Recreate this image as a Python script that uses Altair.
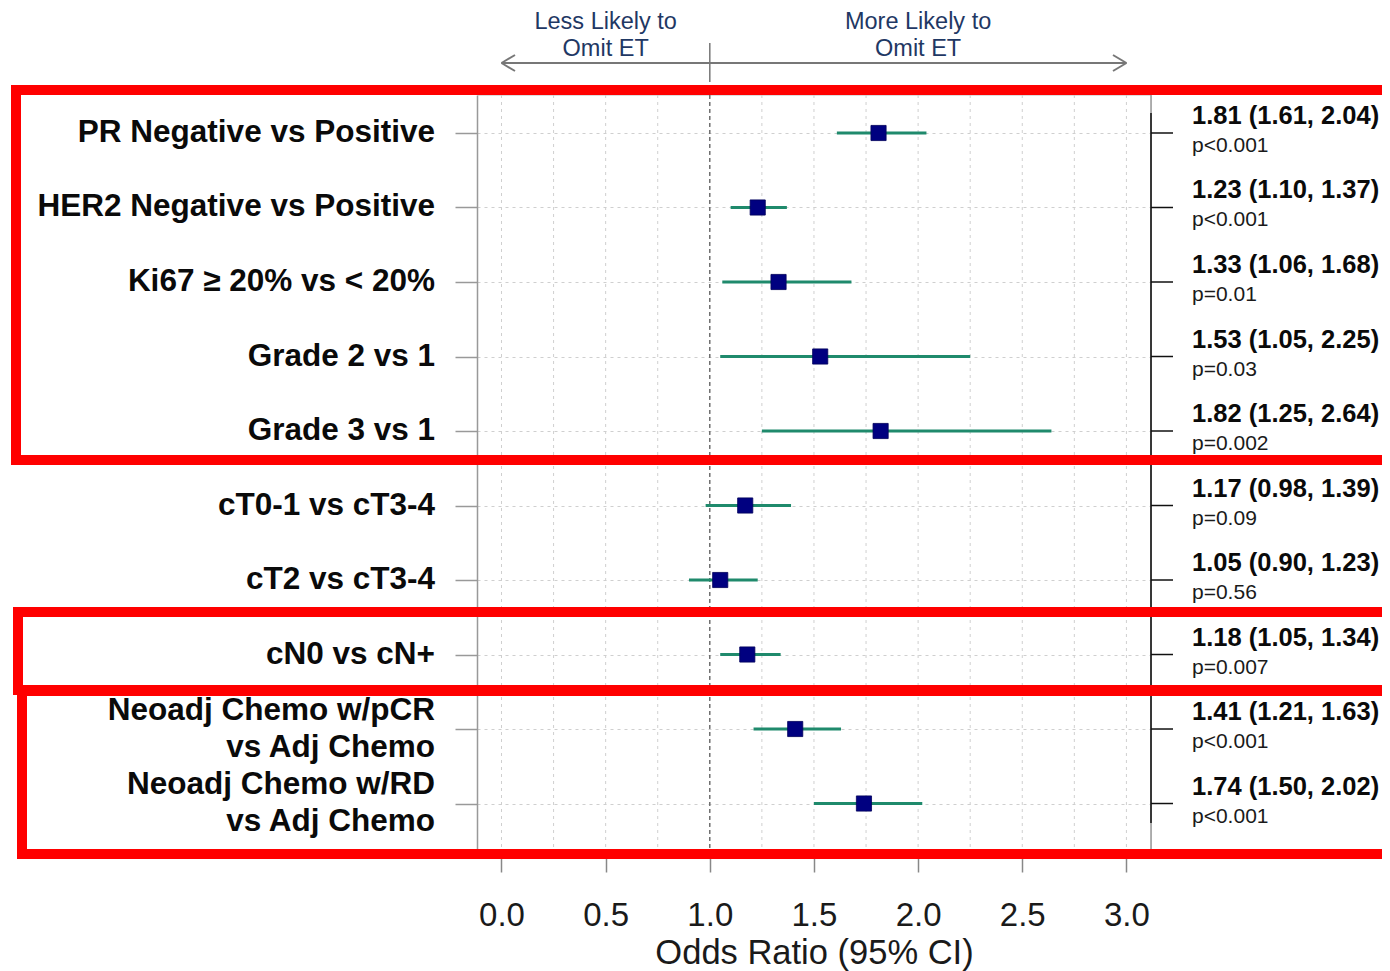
import altair as alt
import pandas as pd

labels = [
    "PR Negative vs Positive",
    "HER2 Negative vs Positive",
    "Ki67 \u2265 20% vs < 20%",
    "Grade 2 vs 1",
    "Grade 3 vs 1",
    "cT0-1 vs cT3-4",
    "cT2 vs cT3-4",
    "cN0 vs cN+",
    "Neoadj Chemo w/pCR\nvs Adj Chemo",
    "Neoadj Chemo w/RD\nvs Adj Chemo",
]
odds = [1.81, 1.23, 1.33, 1.53, 1.82, 1.17, 1.05, 1.18, 1.41, 1.74]
lower = [1.61, 1.10, 1.06, 1.05, 1.25, 0.98, 0.90, 1.05, 1.21, 1.50]
upper = [2.04, 1.37, 1.68, 2.25, 2.64, 1.39, 1.23, 1.34, 1.63, 2.02]
pvals = ["p<0.001", "p<0.001", "p=0.01", "p=0.03", "p=0.002",
         "p=0.09", "p=0.56", "p=0.007", "p<0.001", "p<0.001"]

x_ticks = [0.0, 0.5, 1.0, 1.5, 2.0, 2.5, 3.0]
x_grid = [0.0, 0.25, 0.5, 0.75, 1.0, 1.25, 1.5, 1.75, 2.0, 2.25, 2.5, 2.75, 3.0]
ref_value = [1.0]
arrow_span = {"a": [0.0], "b": [3.0]}
direction_text = ["Less Likely to\nOmit ET", "More Likely to\nOmit ET"]
direction_pos = [0.5, 2.0]

df = pd.DataFrame({
    "row": list(range(1, len(labels) + 1)),
    "label": labels,
    "or": odds,
    "lo": lower,
    "hi": upper,
    "p": pvals,
})
df["ortxt"] = [f"{o:.2f} ({l:.2f}, {h:.2f})" for o, l, h in zip(odds, lower, upper)]

W, H = 674, 755
FONT = "Liberation Sans"

x_scale = alt.Scale(domain=[-0.1176, 3.118], nice=False, zero=False)
x_axis = alt.Axis(values=x_ticks, format=".1f", title="Odds Ratio (95% CI)",
                  grid=False, domain=False, tickColor="#888888", tickSize=22,
                  tickWidth=1.5, labelFontSize=33, labelColor="#1a1a1a",
                  labelPadding=27, labelFont=FONT, titleFont=FONT,
                  titleFontSize=34.5, titleFontWeight="normal", titleColor="#1a1a1a",
                  titlePadding=4)
y_scale = alt.Scale(domain=[0.49, 10.624], reverse=True, nice=False, zero=False)
y_axis = alt.Axis(values=list(range(1, 11)), labels=False, title=None,
                  domainColor="#999999", domainWidth=1.5, tickColor="#999999",
                  tickSize=22, tickWidth=1.5, grid=True, gridDash=[3, 4],
                  gridColor="#cfcfcf", gridWidth=1)

X = lambda f: alt.X(f, scale=x_scale, axis=x_axis)
Y = lambda f: alt.Y(f, scale=y_scale, axis=y_axis)

one = pd.DataFrame({"k": [0]})

vgrid = alt.Chart(pd.DataFrame({"gx": x_grid})).mark_rule(
    color="#cfcfcf", strokeDash=[3, 4], strokeWidth=1
).encode(x=X("gx:Q"), y=alt.value(0), y2=alt.value(H))

refline = alt.Chart(pd.DataFrame({"r": ref_value})).mark_rule(
    color="#555555", strokeDash=[4, 3], strokeWidth=1.2
).encode(x=X("r:Q"), y=alt.value(0), y2=alt.value(H))

reftop = alt.Chart(pd.DataFrame({"r": ref_value})).mark_rule(
    color="#777777", strokeWidth=1.5
).encode(x=X("r:Q"), y=alt.value(-52), y2=alt.value(-13))

right_border = alt.Chart(one).mark_rule(color="#999999", strokeWidth=1.5).encode(
    x=alt.value(W), y=alt.value(0), y2=alt.value(H))
right_axis = alt.Chart(one).mark_rule(color="#111111", strokeWidth=1.5).encode(
    x=alt.value(W), y=alt.value(18), y2=alt.value(728))

base = alt.Chart(df)

ci = base.mark_rule(color="#1f8a6c", strokeWidth=3.2).encode(
    x=X("lo:Q"), x2="hi:Q", y=Y("row:Q"))
pts = base.mark_square(size=230, color="#000080", opacity=1,
                       stroke="#00005a", strokeWidth=0.8).encode(
    x=X("or:Q"), y=Y("row:Q"))

rticks = base.mark_rule(color="#111111", strokeWidth=1.5).encode(
    x=alt.value(W), x2=alt.value(W + 22), y=Y("row:Q"))

label_style = dict(align="right", baseline="middle", font=FONT,
                   fontWeight="bold", fontSize=31.5, lineBreak="\n",
                   lineHeight=37, color="#0a0a0a")
left_lab1 = base.transform_filter("indexof(datum.label, '\\n') < 0").mark_text(
    **label_style).encode(x=alt.value(-42), y=Y("row:Q"), text="label:N")
left_lab2 = base.transform_filter("indexof(datum.label, '\\n') >= 0").mark_text(
    dy=-18.5, **label_style).encode(x=alt.value(-42), y=Y("row:Q"), text="label:N")

or_lab = base.mark_text(align="left", baseline="middle", font=FONT,
                        fontWeight="bold", fontSize=25.5, dy=-17,
                        color="#0a0a0a").encode(
    x=alt.value(715), y=Y("row:Q"), text="ortxt:N")
p_lab = base.mark_text(align="left", baseline="middle", font=FONT,
                       fontSize=21, dy=13, color="#1a1a1a").encode(
    x=alt.value(715), y=Y("row:Q"), text="p:N")

arrow_df = pd.DataFrame(arrow_span)
arrow = alt.Chart(arrow_df).mark_rule(color="#777777", strokeWidth=2).encode(
    x=X("a:Q"), x2="b:Q", y=alt.value(-32))
head_l1 = alt.Chart(arrow_df).mark_rule(color="#777777", strokeWidth=2).encode(
    x=X("a:Q"), x2=alt.value(38), y=alt.value(-32), y2=alt.value(-40))
head_l2 = alt.Chart(arrow_df).mark_rule(color="#777777", strokeWidth=2).encode(
    x=X("a:Q"), x2=alt.value(38), y=alt.value(-32), y2=alt.value(-24))
head_r1 = alt.Chart(arrow_df).mark_rule(color="#777777", strokeWidth=2).encode(
    x=X("b:Q"), x2=alt.value(636), y=alt.value(-32), y2=alt.value(-40))
head_r2 = alt.Chart(arrow_df).mark_rule(color="#777777", strokeWidth=2).encode(
    x=X("b:Q"), x2=alt.value(636), y=alt.value(-32), y2=alt.value(-24))

dir_lab = alt.Chart(pd.DataFrame({"t": direction_text, "xp": direction_pos})).mark_text(
    align="center", baseline="middle", font=FONT, fontSize=23.5, lineBreak="\n",
    lineHeight=27, color="#1f3864").encode(
    x=X("xp:Q"), y=alt.value(-73), text="t:N")


def box(x1, x2, y1, y2):
    return alt.Chart(one).mark_rect(fill="transparent", stroke="#ff0000",
                                    strokeWidth=10).encode(
        x=alt.value(x1), x2=alt.value(x2), y=alt.value(y1), y2=alt.value(y2))


boxes = [
    box(-461, 930, -5, 365),
    box(-459, 930, 517, 595),
    box(-455, 930, 596, 759),
]

chart = alt.layer(
    vgrid, refline, reftop, right_border, right_axis, ci, pts, rticks,
    left_lab1, left_lab2, or_lab, p_lab, arrow, head_l1, head_l2, head_r1, head_r2,
    dir_lab, *boxes
).properties(
    width=W, height=H,
    padding={"left": 469, "top": 87, "right": 231, "bottom": 121},
    autosize=alt.AutoSizeParams(type="none"),
).configure_view(stroke=None).configure(font=FONT)

chart.save("out.html", embed_options={"renderer": "svg", "actions": False})
